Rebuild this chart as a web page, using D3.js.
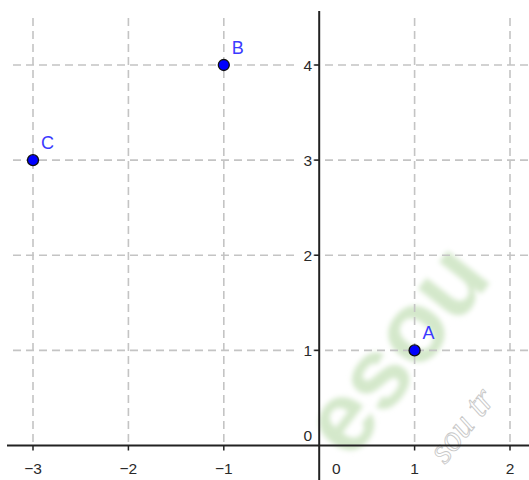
<!DOCTYPE html>
<html><head><meta charset="utf-8">
<script src="https://cdn.jsdelivr.net/npm/d3@7"></script>
<style>html,body{margin:0;padding:0;background:#fff;}svg{display:block;}</style>
</head><body>
<svg id="c" width="529" height="480"></svg>
<script>
const pointNames = ["A", "B", "C"];
const pointX = [1, -1, -3];
const pointY = [1, 4, 3];
const xTicks = [-3, -2, -1, 1, 2];
const yTicks = [1, 2, 3, 4];
const xTickLabels = ["\u22123", "\u22122", "\u22121", "1", "2"];
const yTickLabels = ["1", "2", "3", "4"];

const svg = d3.select("#c");
const x = d3.scaleLinear().domain([-3, 2]).range([33, 510]);
const y = d3.scaleLinear().domain([0, 4]).range([445.5, 65]);
const W = 529;

const defs = svg.append("defs");
defs.append("filter").attr("id", "blur").append("feGaussianBlur").attr("stdDeviation", 2.5);

// watermark
const wm = svg.append("g");
wm.append("text").attr("transform", "translate(350,462) rotate(-52)")
  .attr("filter", "url(#blur)")
  .attr("font-family", "Liberation Sans, Arial, sans-serif").attr("font-weight", "bold")
  .attr("font-size", 100).attr("fill", "#d4e8cb").text("esou");
wm.append("text").attr("transform", "translate(445,465) rotate(-52)")
  .attr("font-family", "Liberation Serif, serif").attr("font-style", "italic")
  .attr("font-size", 36).attr("fill", "none").attr("stroke", "#c8c8c8").attr("stroke-width", 0.9).text("sou tr");

// grid
const grid = svg.append("g").attr("stroke", "#c4c4c4").attr("stroke-width", 1.6).attr("stroke-dasharray", "8,5");
grid.selectAll("line.v").data(xTicks).join("line")
  .attr("x1", d => x(d)).attr("x2", d => x(d)).attr("y1", 18).attr("y2", y(0));
grid.selectAll("line.h").data(yTicks).join("line")
  .attr("y1", d => y(d)).attr("y2", d => y(d)).attr("x1", 13).attr("x2", W);

// axes
const ax = svg.append("g").attr("stroke", "#222").attr("stroke-width", 2);
ax.append("line").attr("x1", 7).attr("x2", W).attr("y1", y(0)).attr("y2", y(0));
ax.append("line").attr("x1", x(0)).attr("x2", x(0)).attr("y1", 11).attr("y2", 480);
ax.selectAll("line.tx").data(xTicks).join("line").attr("stroke-width", 1.5)
  .attr("x1", d => x(d)).attr("x2", d => x(d)).attr("y1", y(0)).attr("y2", y(0) + 5);
ax.selectAll("line.ty").data(yTicks).join("line").attr("stroke-width", 1.5)
  .attr("y1", d => y(d)).attr("y2", d => y(d)).attr("x1", x(0) - 5).attr("x2", x(0));

// tick labels
const lab = svg.append("g").attr("font-family", "Liberation Sans, Arial, sans-serif")
  .attr("font-size", 15.5).attr("fill", "#2a2a2a");
yTicks.forEach((d, i) => {
  lab.append("rect").attr("x", x(0) - 22).attr("y", y(d) - 10).attr("width", 16).attr("height", 20).attr("fill", "#fff");
  lab.append("text").attr("x", x(0) - 7).attr("y", y(d) + 5.5).attr("text-anchor", "end").text(yTickLabels[i]);
});
xTicks.forEach((d, i) => {
  lab.append("text").attr("x", x(d)).attr("y", y(0) + 28).attr("text-anchor", "middle").text(xTickLabels[i]);
});
lab.append("text").attr("x", x(0) - 7).attr("y", y(0) - 5).attr("text-anchor", "end").text("0");
lab.append("text").attr("x", x(0) + 17).attr("y", y(0) + 28).attr("text-anchor", "middle").text("0");

// points
const pts = pointNames.map((n, i) => ({ n, x: pointX[i], y: pointY[i] }));
svg.selectAll("circle.p").data(pts).join("circle")
  .attr("cx", d => x(d.x)).attr("cy", d => y(d.y)).attr("r", 5.5)
  .attr("fill", "#0000ff").attr("stroke", "#111").attr("stroke-width", 1.3);
svg.selectAll("text.p").data(pts).join("text")
  .attr("x", d => x(d.x) + 8).attr("y", d => y(d.y) - 11)
  .attr("font-family", "Liberation Sans, Arial, sans-serif").attr("font-size", 18)
  .attr("fill", "#3a3aff").text(d => d.n);
</script>
</body></html>
